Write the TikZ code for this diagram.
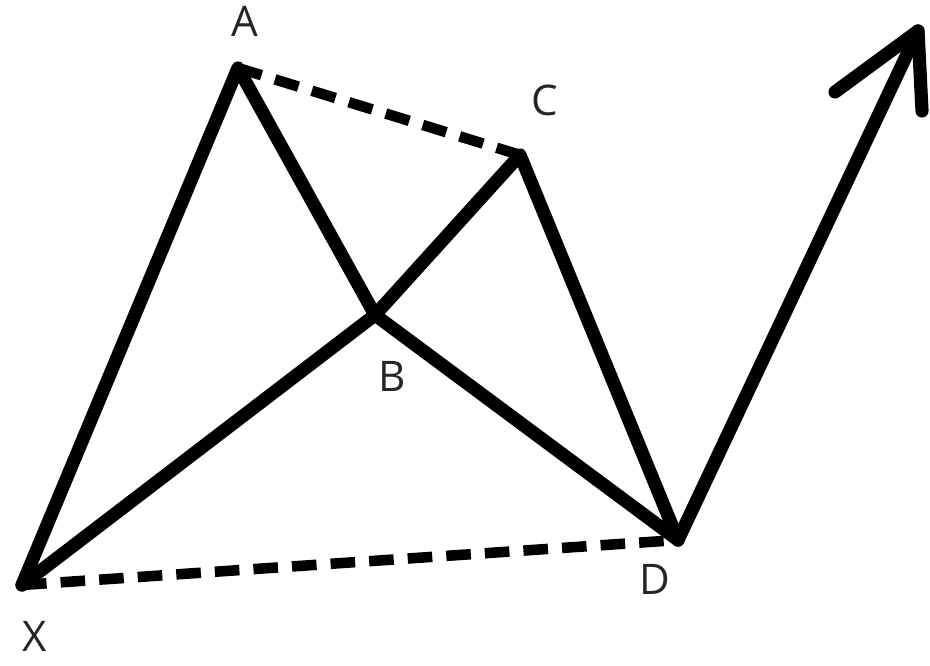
\documentclass[tikz,border=0pt]{standalone}
\usepackage{fontspec}
\setmainfont{Open Sans}
\usetikzlibrary{positioning}

\begin{document}
\begin{tikzpicture}[
  font=\fontsize{24}{28}\selectfont,
  leg/.style={line width=7.5pt, line cap=round, line join=round},
  proj/.style={line width=6pt, dash pattern=on 14pt off 8pt},
  lbl/.style={inner sep=0pt, text=black!85}]
\useasboundingbox (0,0) rectangle (18.6,13.32);
\coordinate (X) at (0.44,1.62);
\coordinate (A) at (4.76,11.96);
\coordinate (B) at (7.5,7.02);
\coordinate (C) at (10.4,10.22);
\coordinate (D) at (13.56,2.52);
\coordinate (tip) at (18.36,12.7);
\coordinate (barbl) at (16.7,11.48);
\coordinate (barbr) at (18.44,11.1);
\node[lbl] (la) at (4.9,12.9) {A};
\node[lbl] (lb) at (7.84,5.8) {B};
\node[lbl] (lc) at (10.9,11.32) {C};
\node[lbl] (ld) at (13.1,1.74) {D};
\node[lbl] (lx) at (0.7,0.6) {X};
% legs of the pattern
\draw[leg] (X) -- (A) -- (B) -- (C) -- (D);
\draw[leg] (X) -- (B) -- (D);
\draw[leg] (D) -- (tip);
\draw[leg] (barbl) -- (tip) -- (barbr);
% dashed projections
\draw[proj] (A) -- (C);
\draw[proj] (X) -- (D);
\end{tikzpicture}
\end{document}
